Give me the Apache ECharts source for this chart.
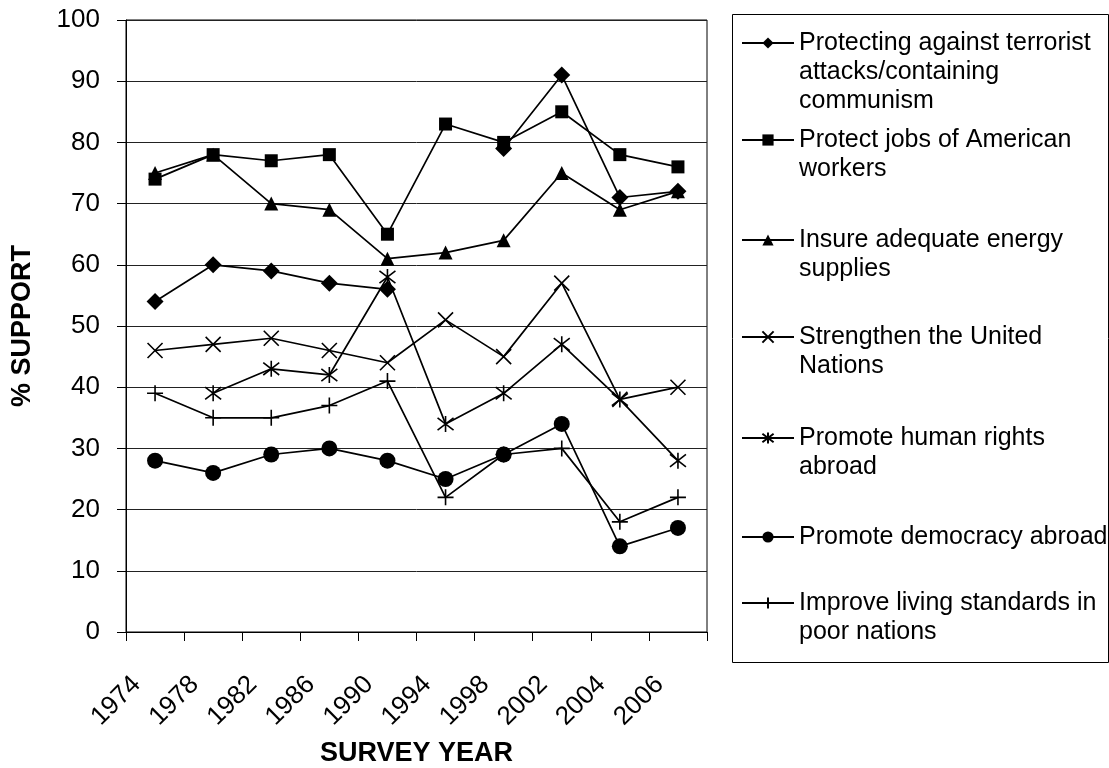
<!DOCTYPE html>
<html><head><meta charset="utf-8">
<script src="https://cdn.jsdelivr.net/npm/echarts@6/dist/echarts.min.js"></script>
<style>html,body{margin:0;padding:0;background:#fff}#c{width:1109px;height:768px}</style>
</head><body><div id="c"></div>
<script>
// ---- data ----
const years = ['1974','1978','1982','1986','1990','1994','1998','2002','2004','2006'];
const yTicks = [0,10,20,30,40,50,60,70,80,90,100];
const terrorism = [54,60,59,57,56,null,79,91,71,72];
const jobs = [74,78,77,78,65,83,80,85,78,76];
const energy = [75,78,70,69,61,62,64,75,69,72];
const unitedNations = [46,47,48,46,44,51,45,57,38,40];
const humanRights = [null,39,43,42,58,34,39,47,38,28];
const democracy = [28,26,29,30,28,25,29,34,14,17];
const livingStandards = [39,35,35,37,41,22,29,30,18,22];
const seriesNames = [
  'Protecting against terrorist attacks/containing communism',
  'Protect jobs of American workers',
  'Insure adequate energy supplies',
  'Strengthen the United Nations',
  'Promote human rights abroad',
  'Promote democracy abroad',
  'Improve living standards in poor nations'
];
const legendLines = [
  ['Protecting against terrorist','attacks/containing','communism'],
  ['Protect jobs of American','workers'],
  ['Insure adequate energy','supplies'],
  ['Strengthen the United','Nations'],
  ['Promote human rights','abroad'],
  ['Promote democracy abroad'],
  ['Improve living standards in','poor nations']
];
const seriesData = [terrorism, jobs, energy, unitedNations, humanRights, democracy, livingStandards];

// ---- styles ----
const FONT = "'Liberation Sans', Arial, Helvetica, sans-serif";
const symbols = [
  {symbol:'diamond', size:17, stroke:false},
  {symbol:'rect', size:13, stroke:false},
  {symbol:'triangle', size:14, stroke:false},
  {symbol:'path://M0,0L10,10M10,0L0,10', size:15, stroke:true},
  {symbol:'path://M0,0L10,10M10,0L0,10M5,-1.5L5,11.5', size:16, stroke:true},
  {symbol:'circle', size:16, stroke:false},
  {symbol:'path://M0,5L10,5M5,0.5L5,9.5', size:16, stroke:true}
];
const legendFirstLineY = [43,140,240,337,438,537,603];
const LH = 29;

const series = seriesNames.map((name,i)=>({
  name, type:'line', data: seriesData[i],
  symbol: symbols[i].symbol, symbolSize: symbols[i].size,
  connectNulls:false,
  lineStyle:{color:'#000', width:1.7},
  itemStyle: symbols[i].stroke
    ? {color:'none', borderColor:'#000', borderWidth:1.6}
    : {color:'#000', borderWidth:0},
  emphasis:{disabled:true},
  animation:false
}));

const legends = seriesNames.map((name,i)=>{
  const n = legendLines[i].length;
  const pad = new Array(n-1).fill('');
  return {
    data:[name], orient:'vertical', left:741,
    top: legendFirstLineY[i] - (2*n-1)*LH/2,
    padding:0, itemWidth:52, itemHeight:14, selectedMode:false,
    formatter: ()=>pad.concat(legendLines[i]).join('\n'),
    textStyle:{fontFamily:FONT, fontSize:25, color:'#000', lineHeight:LH}
  };
});

const chart = echarts.init(document.getElementById('c'), null, {renderer:'canvas'});
chart.setOption({
  backgroundColor:'#fff',
  animation:false,
  grid:{left:126, top:20, width:581, height:612, show:true, borderColor:'#000', borderWidth:1,
        containLabel:false, outerBoundsMode:'none'},
  legend: legends,
  graphic:[{type:'rect', shape:{x:732.5,y:14.5,width:376,height:648}, style:{fill:'none', stroke:'#000', lineWidth:1}, silent:true}],
  xAxis:{
    type:'category', data:years, boundaryGap:true,
    name:'SURVEY YEAR', nameLocation:'middle', nameGap:108,
    nameTextStyle:{fontFamily:FONT, fontSize:27, fontWeight:'bold', color:'#000'},
    axisLine:{lineStyle:{color:'#000', width:1}},
    axisTick:{show:true, length:9, lineStyle:{color:'#000'}},
    axisLabel:{rotate:45, margin:30, fontFamily:FONT, fontSize:26, color:'#000', interval:0,
      formatter: v => '{a|' + v + '}',
      rich:{a:{fontFamily:FONT, fontSize:26, color:'#000', padding:[0,26,0,0]}}}
  },
  yAxis:{
    type:'value', min:yTicks[0], max:yTicks[yTicks.length-1], interval:10,
    name:'% SUPPORT', nameLocation:'middle', nameRotate:90, nameGap:90,
    nameTextStyle:{fontFamily:FONT, fontSize:27, fontWeight:'bold', color:'#000'},
    axisLine:{show:true, lineStyle:{color:'#000', width:1}},
    axisTick:{show:true, length:9, lineStyle:{color:'#000'}},
    axisLabel:{margin:26, fontFamily:FONT, fontSize:26, color:'#000'},
    splitLine:{show:true, lineStyle:{color:'#222', width:1}}
  },
  series
});
</script></body></html>
